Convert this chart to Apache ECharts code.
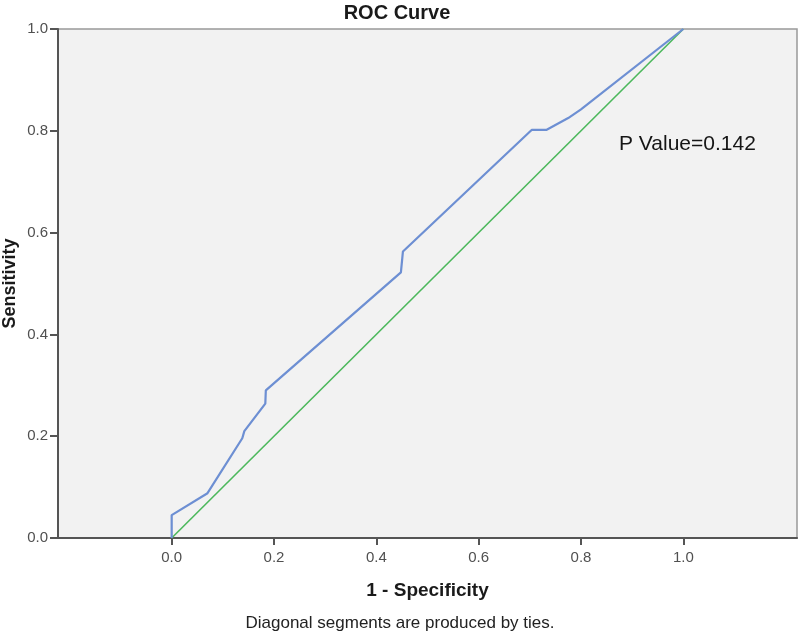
<!DOCTYPE html>
<html>
<head>
<meta charset="utf-8">
<script src="https://cdn.jsdelivr.net/npm/echarts@6/dist/echarts.min.js"></script>
<style>html,body{margin:0;padding:0;background:#fff;}#c{width:800px;height:635px;}</style>
</head>
<body>
<div id="c"></div>
<script>
// ROC curve points (1 - Specificity, Sensitivity)
const rocFpr = [0, 0, 0.070, 0.138, 0.142, 0.183, 0.184, 0.448, 0.452, 0.704, 0.733, 0.775, 0.800, 1.0];
const rocTpr = [0, 0.045, 0.088, 0.196, 0.210, 0.264, 0.290, 0.522, 0.563, 0.802, 0.802, 0.825, 0.842, 1.0];
// Reference line
const refFpr = [0, 1];
const refTpr = [0, 1];
const xTicks = [0, 0.2, 0.4, 0.6, 0.8, 1.0];
const yTicks = [0, 0.2, 0.4, 0.6, 0.8, 1.0];
const pValueText = 'P Value=0.142';

const chart = echarts.init(document.getElementById('c'), null, {renderer: 'canvas'});
const font = 'Liberation Sans, Arial, sans-serif';
chart.setOption({
  backgroundColor: '#ffffff',
  animation: false,
  title: {
    text: 'ROC Curve',
    left: 392, top: -2,
    textAlign: 'center',
    textStyle: {fontFamily: font, fontSize: 20, fontWeight: 'bold', color: '#1a1a1a'}
  },
  grid: {left: 58, right: 3, top: 29, bottom: 97, outerBoundsMode: 'none', containLabel: false,
         show: true, backgroundColor: '#f2f2f2', borderColor: '#999', borderWidth: 1.5},
  xAxis: {
    type: 'value', min: -0.2222, max: 1.2222,
    name: '1 - Specificity', nameLocation: 'middle', nameGap: 43, nameMoveOverlap: false,
    nameTextStyle: {fontFamily: font, fontSize: 19, fontWeight: 'bold', color: '#1a1a1a'},
    axisLine: {onZero: false, lineStyle: {color: '#555', width: 2}},
    axisTick: {show: true, length: 7, customValues: xTicks, lineStyle: {color: '#555', width: 2}},
    axisLabel: {customValues: xTicks, formatter: v => v.toFixed(1), fontFamily: font, fontSize: 15, color: '#505050', margin: 12},
    splitLine: {show: false}
  },
  yAxis: {
    type: 'value', min: 0, max: 1, interval: 0.2,
    name: 'Sensitivity', nameLocation: 'middle', nameGap: 39, nameMoveOverlap: false,
    nameTextStyle: {fontFamily: font, fontSize: 18, fontWeight: 'bold', color: '#1a1a1a'},
    axisLine: {show: true, onZero: false, lineStyle: {color: '#555', width: 2}},
    axisTick: {show: true, length: 8, lineStyle: {color: '#555', width: 2}},
    axisLabel: {formatter: v => v.toFixed(1), fontFamily: font, fontSize: 15, color: '#505050', margin: 10},
    splitLine: {show: false}
  },
  series: [
    {
      type: 'line', name: 'Reference',
      data: refFpr.map((x, i) => [x, refTpr[i]]),
      symbol: 'none', lineStyle: {color: '#4cb85c', width: 1.6}, z: 2
    },
    {
      type: 'line', name: 'ROC',
      data: rocFpr.map((x, i) => [x, rocTpr[i]]),
      symbol: 'none', lineStyle: {color: '#6d8fd3', width: 2.2}, z: 3
    }
  ],
  graphic: [
    {type: 'text', left: 619, top: 134,
     style: {text: pValueText, fontFamily: font, fontSize: 21, fontWeight: 'normal', fill: '#151515'}},
    {type: 'text', left: 'center', top: 615,
     style: {text: 'Diagonal segments are produced by ties.', fontFamily: font, fontSize: 17, fill: '#222'}}
  ]
});
</script>
</body>
</html>
